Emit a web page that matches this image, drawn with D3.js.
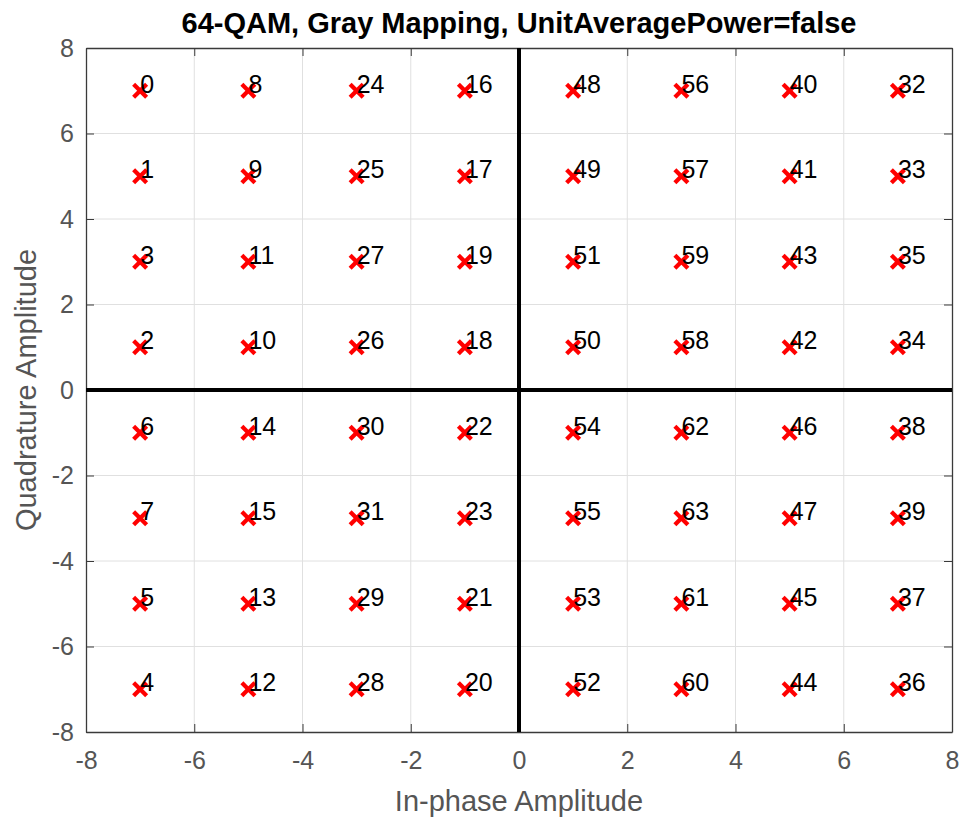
<!DOCTYPE html>
<html lang="en">
<head>
    <meta charset="UTF-8">
    <title>64-QAM Constellation</title>
    <script src="https://cdn.jsdelivr.net/npm/d3@7"></script>
    <style>
        body { margin: 0; background: #fff; }
        svg { font-family: "Liberation Sans", Arial, Helvetica, sans-serif; }
    </style>
</head>
<body>
    <svg width="964" height="823"></svg>
    <script>
        const width = 964;
        const height = 823;
        const margin = {top: 48, left: 86, bottom: 91, right: 12};

        // constellation points (in-phase, quadrature) and symbol index
        const inPhase = [
            -7, -5, -3, -1, 1, 3, 5, 7,
            -7, -5, -3, -1, 1, 3, 5, 7,
            -7, -5, -3, -1, 1, 3, 5, 7,
            -7, -5, -3, -1, 1, 3, 5, 7,
            -7, -5, -3, -1, 1, 3, 5, 7,
            -7, -5, -3, -1, 1, 3, 5, 7,
            -7, -5, -3, -1, 1, 3, 5, 7,
            -7, -5, -3, -1, 1, 3, 5, 7
        ];
        const quadrature = [
            7, 7, 7, 7, 7, 7, 7, 7,
            5, 5, 5, 5, 5, 5, 5, 5,
            3, 3, 3, 3, 3, 3, 3, 3,
            1, 1, 1, 1, 1, 1, 1, 1,
            -1, -1, -1, -1, -1, -1, -1, -1,
            -3, -3, -3, -3, -3, -3, -3, -3,
            -5, -5, -5, -5, -5, -5, -5, -5,
            -7, -7, -7, -7, -7, -7, -7, -7
        ];
        const symbols = [
            0, 8, 24, 16, 48, 56, 40, 32,
            1, 9, 25, 17, 49, 57, 41, 33,
            3, 11, 27, 19, 51, 59, 43, 35,
            2, 10, 26, 18, 50, 58, 42, 34,
            6, 14, 30, 22, 54, 62, 46, 38,
            7, 15, 31, 23, 55, 63, 47, 39,
            5, 13, 29, 21, 53, 61, 45, 37,
            4, 12, 28, 20, 52, 60, 44, 36
        ];
        const ticks = [-8, -6, -4, -2, 0, 2, 4, 6, 8];

        const data = symbols.map((s, i) => ({i: inPhase[i], q: quadrature[i], s: s}));

        const x = d3.scaleLinear().domain([-8, 8]).range([margin.left, width - margin.right]);
        const y = d3.scaleLinear().domain([-8, 8]).range([height - margin.bottom, margin.top]);

        const svg = d3.select('svg');
        const axisColor = '#3a3a3a';
        const labelColor = '#555';
        const fmt = d => String(d);   // plain hyphen, like the reference

        // grid
        const grid = svg.append('g').attr('stroke', '#e0e0e0').attr('stroke-width', 1);
        grid.selectAll('.gx').data(ticks.slice(1, -1)).enter().append('line')
            .attr('x1', d => x(d)).attr('x2', d => x(d))
            .attr('y1', y(8)).attr('y2', y(-8));
        grid.selectAll('.gy').data(ticks.slice(1, -1)).enter().append('line')
            .attr('y1', d => y(d)).attr('y2', d => y(d))
            .attr('x1', x(-8)).attr('x2', x(8));

        // axes (inward ticks, full box)
        const tickLen = 8;
        const xAxis = g => g
            .attr('transform', `translate(0, ${y(-8)})`)
            .call(d3.axisBottom(x).tickValues(ticks).tickFormat(fmt).tickSizeInner(-tickLen).tickSizeOuter(0).tickPadding(19));
        const yAxis = g => g
            .attr('transform', `translate(${x(-8)}, 0)`)
            .call(d3.axisLeft(y).tickValues(ticks).tickFormat(fmt).tickSizeInner(-tickLen).tickSizeOuter(0).tickPadding(12));
        const xTop = g => g
            .attr('transform', `translate(0, ${y(8)})`)
            .call(d3.axisTop(x).tickValues(ticks).tickSizeInner(-tickLen).tickSizeOuter(0).tickFormat(''));
        const yRight = g => g
            .attr('transform', `translate(${x(8)}, 0)`)
            .call(d3.axisRight(y).tickValues(ticks).tickSizeInner(-tickLen).tickSizeOuter(0).tickFormat(''));

        [xAxis, yAxis, xTop, yRight].forEach(a => {
            svg.append('g').call(a)
                .call(g => g.selectAll('.domain').attr('stroke', axisColor).attr('stroke-width', 1.3))
                .call(g => g.selectAll('.tick line').attr('stroke', axisColor))
                .call(g => g.selectAll('.tick text')
                    .attr('fill', labelColor)
                    .attr('font-size', 25)
                    .attr('font-family', '"Liberation Sans", Arial, sans-serif'));
        });

        // zero lines
        svg.append('line')
            .attr('x1', x(0)).attr('x2', x(0)).attr('y1', y(8)).attr('y2', y(-8))
            .attr('stroke', '#000').attr('stroke-width', 4);
        svg.append('line')
            .attr('y1', y(0)).attr('y2', y(0)).attr('x1', x(-8)).attr('x2', x(8))
            .attr('stroke', '#000').attr('stroke-width', 4);

        // markers
        const m = 6.5;
        const marks = svg.append('g').attr('stroke', '#ff0000').attr('stroke-width', 4.2)
            .selectAll('g').data(data).enter().append('g')
            .attr('transform', d => `translate(${x(d.i)}, ${y(d.q)})`);
        marks.append('line').attr('x1', -m).attr('y1', -m).attr('x2', m).attr('y2', m);
        marks.append('line').attr('x1', -m).attr('y1', m).attr('x2', m).attr('y2', -m);

        // symbol labels
        svg.append('g').selectAll('text').data(data).enter().append('text')
            .attr('x', d => x(d.i))
            .attr('y', d => y(d.q) + 2)
            .attr('font-size', 25)
            .attr('fill', '#000')
            .text(d => d.s);

        // title and axis labels
        svg.append('text')
            .attr('x', (x(-8) + x(8)) / 2).attr('y', 33)
            .attr('text-anchor', 'middle')
            .attr('font-size', 29).attr('font-weight', 'bold').attr('fill', '#000')
            .text('64-QAM, Gray Mapping, UnitAveragePower=false');
        svg.append('text')
            .attr('x', (x(-8) + x(8)) / 2).attr('y', 811)
            .attr('text-anchor', 'middle')
            .attr('font-size', 29).attr('fill', labelColor)
            .text('In-phase Amplitude');
        svg.append('text')
            .attr('transform', `translate(36, ${(y(-8) + y(8)) / 2}) rotate(-90)`)
            .attr('text-anchor', 'middle')
            .attr('font-size', 29).attr('fill', labelColor)
            .text('Quadrature Amplitude');
    </script>
</body>
</html>
